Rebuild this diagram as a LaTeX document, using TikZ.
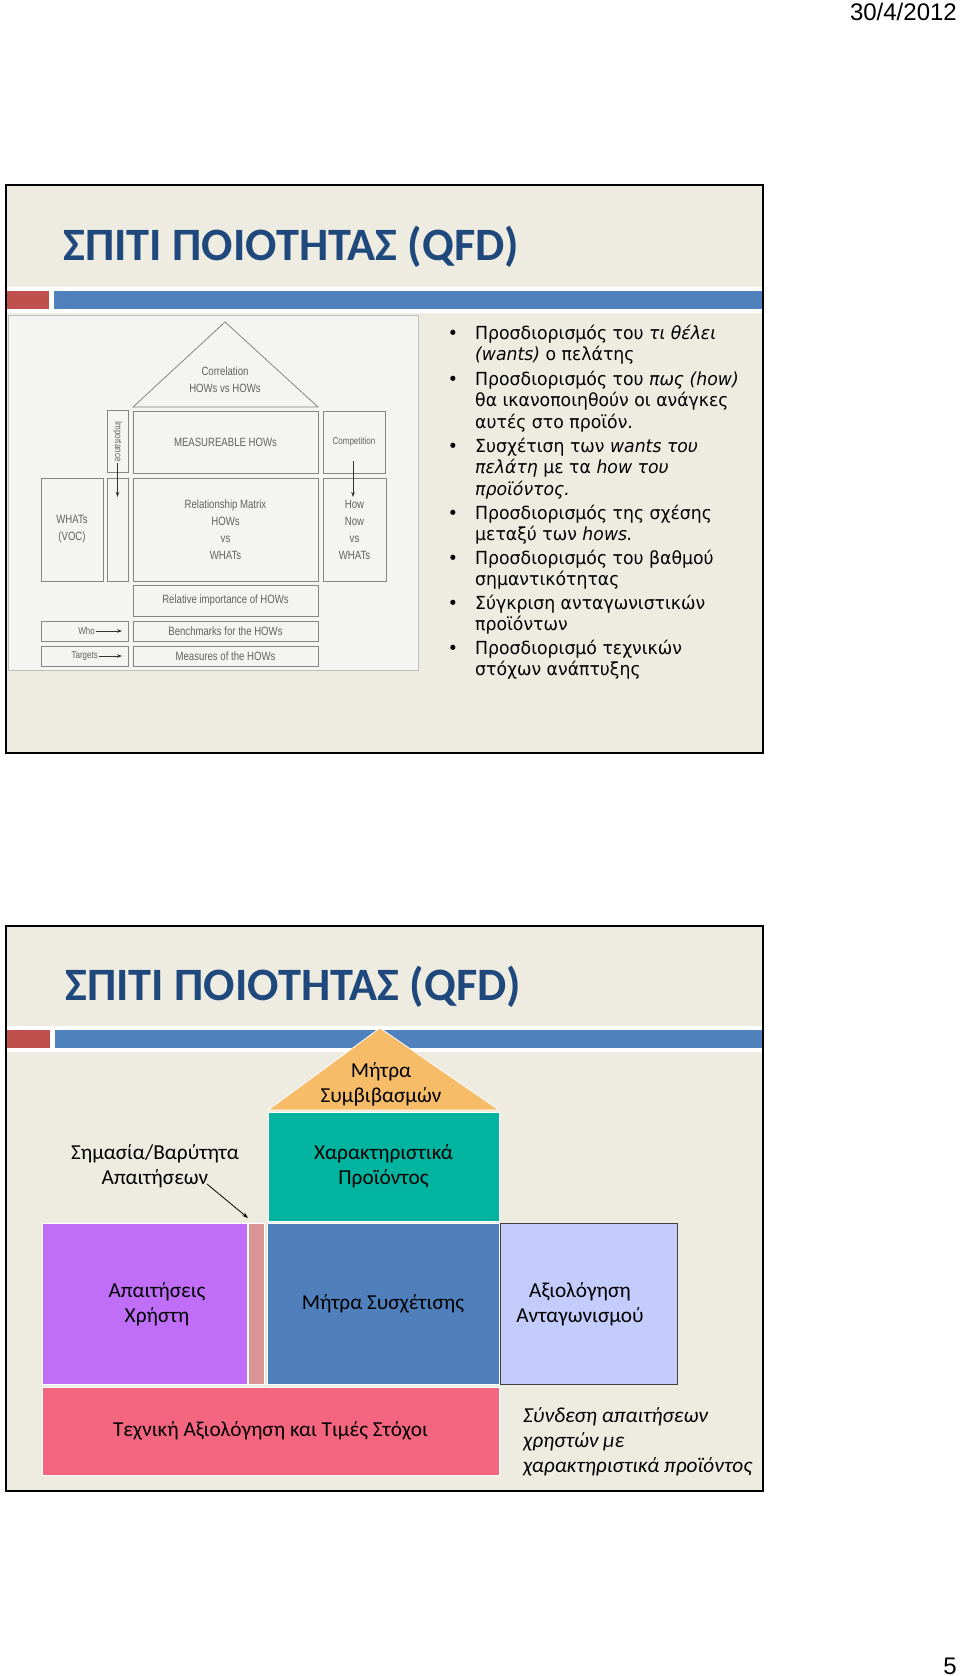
\documentclass[tikz,border=0pt]{standalone}
\usepackage{fontspec}
\setmainfont{Carlito}
\newfontfamily\bulletfont[FakeStretch=0.96]{DejaVu Sans}
\newfontfamily\scanfont[FakeStretch=0.8]{Liberation Sans}
\newfontfamily\hdrfont{Liberation Sans}
\usetikzlibrary{arrows.meta,positioning}
\definecolor{slidebg}{HTML}{EEECE1}
\definecolor{titleblue}{HTML}{1F497D}
\definecolor{barred}{HTML}{C0504D}
\definecolor{barblue}{HTML}{4F81BD}
\definecolor{scanbg}{HTML}{F4F4F2}
\definecolor{scanline}{HTML}{858585}
\definecolor{scantxt}{HTML}{626262}
\definecolor{roofor}{HTML}{F6BC68}
\definecolor{charteal}{HTML}{00B4A0}
\definecolor{reqpurple}{HTML}{C06EF7}
\definecolor{weightpink}{HTML}{D99694}
\definecolor{matblue}{HTML}{4F80BC}
\definecolor{complight}{HTML}{C3CCFC}
\definecolor{techpink}{HTML}{F4657F}
\tikzset{
  hdr/.style={font=\hdrfont\fontsize{24}{26}\selectfont,inner sep=0pt},
  slidetitle/.style={font=\bfseries\fontsize{46.4}{50}\selectfont,text=titleblue,inner sep=0pt},
  bulletitem/.style={font=\bulletfont\fontsize{18}{21.8}\selectfont,align=left,inner sep=0pt},
  scanbox/.style={draw=scanline,line width=0.8pt,inner sep=0pt,
    font=\scanfont\fontsize{12}{17}\selectfont,text=scantxt,align=center},
  scansmall/.style={font=\scanfont\fontsize{10}{12}\selectfont,text=scantxt,inner sep=1pt},
  scanarrow/.style={-{Stealth[length=5pt,width=3.5pt]},line width=0.8pt,color=black!80},
  qbox/.style={draw=white,line width=0.8pt,inner sep=0pt,
    font=\fontsize{21.3}{25}\selectfont,align=center},
  qtext/.style={font=\fontsize{21.3}{25}\selectfont,align=center,inner sep=0pt},
}

\begin{document}
\begin{tikzpicture}[x=1pt,y=-1pt]
  \useasboundingbox[fill=white] (0,0) rectangle (960,1676);
  \node[hdr,anchor=base east] (date) at (957,20) {30/4/2012};
  \node[hdr,anchor=base east] (pagenum) at (957,1674) {5};

  % slide 1
  \fill[slidebg] (6,185) rectangle (763,753);
  \node[slidetitle,anchor=base west] (title1) at (63,260) {ΣΠΙΤΙ ΠΟΙΟΤΗΤΑΣ (QFD)};
  \fill[white] (6,287) rectangle (763,313);
  \fill[barred] (6,291) rectangle (49,309);
  \fill[barblue] (54,291) rectangle (763,309);

  \draw[fill=scanbg,draw=black!25] (8,315) rectangle (418,670);
  \draw[scanline,line width=0.8pt] (133,407) -- (225,322) -- (318,407) -- cycle;
  \node[scanbox,draw=none] (correl) at (225,380) {Correlation\\HOWs vs HOWs};
  \node[scanbox,minimum width=21,minimum height=62] (imp) at (117.5,441) {};
  \node[scansmall,rotate=-90] (implbl) at (117.5,441.5) {Importance};
  \coordinate (impend) at (117.5,497);
  \node[scanbox,minimum width=185,minimum height=62] (meas) at (225.5,442) {MEASUREABLE HOWs};
  \node[scanbox,minimum width=62,minimum height=62,font=\scanfont\fontsize{10}{12}\selectfont] (comp) at (354,442) {Competition};
  \coordinate (compfrom) at (353,461);
  \coordinate (compto) at (353,497);
  \node[scanbox,minimum width=62,minimum height=103] (whats) at (72,529.5) {WHATs\\(VOC)};
  \node[scanbox,minimum width=21,minimum height=103] (impcol) at (117.5,529.5) {};
  \node[scanbox,minimum width=185,minimum height=103] (relmat) at (225.5,529.5) {Relationship Matrix\\HOWs\\vs\\WHATs};
  \node[scanbox,minimum width=63,minimum height=103] (hownow) at (354.5,529.5) {How\\Now\\vs\\WHATs};
  \node[scanbox,minimum width=185,minimum height=31] (relimp) at (225.5,600.5) {Relative importance of HOWs};
  \node[scanbox,minimum width=87,minimum height=20] (whobox) at (84.5,631) {};
  \node[scansmall,anchor=east] (wholbl) at (96,631) {Who};
  \coordinate (whotip) at (122,631);
  \node[scanbox,minimum width=185,minimum height=20] (bench) at (225.5,631) {Benchmarks for the HOWs};
  \node[scanbox,minimum width=87,minimum height=20] (tgtbox) at (84.5,656) {};
  \node[scansmall,anchor=east] (tgtlbl) at (99,656) {Targets};
  \coordinate (tgttip) at (122,656);
  \node[scanbox,minimum width=185,minimum height=20] (meashow) at (225.5,656) {Measures of the HOWs};

  \draw[scanarrow] (implbl.east) -- (impend);
  \draw[scanarrow] (compfrom) -- (compto);
  \draw[scanarrow] (wholbl) -- (whotip);
  \draw[scanarrow] (tgtlbl) -- (tgttip);

  % bullet texts: base anchor sits on the last line
  \node[bulletitem,anchor=base] (dot1) at (453,339) {•};
  \node[bulletitem,anchor=base west] (item1) at (475,360.8) {Προσδιορισμός του \textit{τι θέλει}\\\textit{(wants)} ο πελάτης};
  \node[bulletitem,anchor=base] (dot2) at (453,385) {•};
  \node[bulletitem,anchor=base west] (item2) at (475,428.6) {Προσδιορισμός του \textit{πως (how)}\\θα ικανοποιηθούν οι ανάγκες\\αυτές στο προϊόν.};
  \node[bulletitem,anchor=base] (dot3) at (453,452) {•};
  \node[bulletitem,anchor=base west] (item3) at (475,495.6) {Συσχέτιση των \textit{wants του}\\\textit{πελάτη} με τα \textit{how του}\\\textit{προϊόντος.}};
  \node[bulletitem,anchor=base] (dot4) at (453,519) {•};
  \node[bulletitem,anchor=base west] (item4) at (475,540.8) {Προσδιορισμός της σχέσης\\μεταξύ των \textit{hows.}};
  \node[bulletitem,anchor=base] (dot5) at (453,564) {•};
  \node[bulletitem,anchor=base west] (item5) at (475,585.8) {Προσδιορισμός του βαθμού\\σημαντικότητας};
  \node[bulletitem,anchor=base] (dot6) at (453,609) {•};
  \node[bulletitem,anchor=base west] (item6) at (475,630.8) {Σύγκριση ανταγωνιστικών\\προϊόντων};
  \node[bulletitem,anchor=base] (dot7) at (453,654) {•};
  \node[bulletitem,anchor=base west] (item7) at (475,675.8) {Προσδιορισμό τεχνικών\\στόχων ανάπτυξης};

  \draw[black,line width=2pt] (6,185) rectangle (763,753);

  % slide 2
  \fill[slidebg] (6,926) rectangle (763,1491);
  \node[slidetitle,anchor=base west] (title2) at (65,1000) {ΣΠΙΤΙ ΠΟΙΟΤΗΤΑΣ (QFD)};
  \fill[white] (6,1026) rectangle (763,1052);
  \fill[barred] (6,1030) rectangle (50,1048);
  \fill[barblue] (55,1030) rectangle (763,1048);

  \filldraw[fill=roofor,draw=white,line width=0.8pt] (268,1110) -- (380,1028) -- (499,1110) -- cycle;
  \node[qtext] (tradeoff) at (381,1084) {Μήτρα\\Συμβιβασμών};
  \node[qbox,fill=charteal,minimum width=231,minimum height=109] (prodchar) at (383.5,1166.5) {Χαρακτηριστικά\\Προϊόντος};
  \node[qtext] (weightlbl) at (155,1166) {Σημασία/Βαρύτητα\\Απαιτήσεων};
  \node[qbox,fill=reqpurple,minimum width=205,minimum height=161] (userreq) at (144.5,1303.5) {};
  \node[qtext] (userreqlbl) at (157,1304) {Απαιτήσεις\\Χρήστη};
  \node[qbox,fill=weightpink,minimum width=16,minimum height=161] (weight) at (256,1303.5) {};
  \node[qbox,fill=matblue,minimum width=232,minimum height=161] (relmatrix) at (383,1303.5) {Μήτρα Συσχέτισης};
  \node[qbox,draw=black!75,line width=1pt,fill=complight,minimum width=177,minimum height=161] (compeval) at (588.5,1303.5) {};
  \node[qtext] (compevallbl) at (580,1304) {Αξιολόγηση\\Ανταγωνισμού};
  \node[qbox,fill=techpink,minimum width=457,minimum height=88] (techeval) at (270.5,1431) {Τεχνική Αξιολόγηση και Τιμές Στόχοι};
  \node[qtext,align=left,anchor=west,font=\itshape\fontsize{21.3}{25}\selectfont] (linknote) at (523,1442) {Σύνδεση απαιτήσεων\\χρηστών με\\χαρακτηριστικά προϊόντος};

  \coordinate (weightfrom) at (207,1184);
  \coordinate (weightto) at (248,1218);
  \draw[-{Stealth[length=6pt,width=4pt]},line width=0.8pt] (weightfrom) -- (weightto);

  \draw[black,line width=2pt] (6,926) rectangle (763,1491);
\end{tikzpicture}
\end{document}
